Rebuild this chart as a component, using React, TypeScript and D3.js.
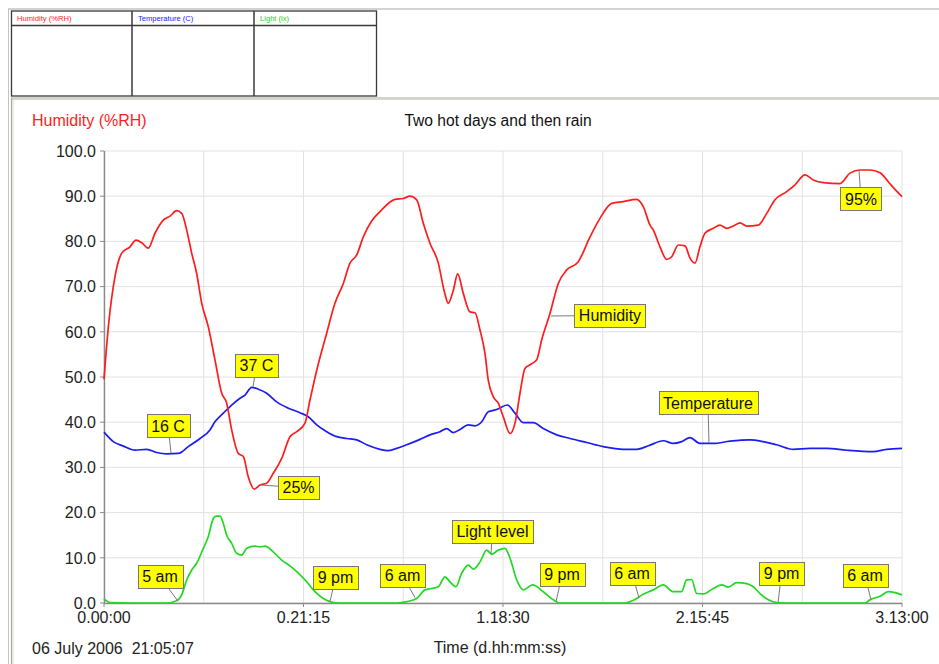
import React from 'react';
import * as d3 from 'd3';

// [hours since start, value]
const humidity: [number, number][] = [
  [0, 49.5], [0.46, 61], [1.17, 72.2], [1.89, 77.4], [2.77, 78.8], [3.41, 80.3], [4.02, 79.7],
  [4.72, 78.5], [5.43, 81.8], [6.32, 84.7], [7.03, 85.6], [7.74, 86.8], [8.28, 86.2], [8.81, 82.5],
  [9.34, 77.4], [9.87, 72.9], [10.41, 66.3], [11.11, 61.1], [11.82, 53.8], [12.54, 46.4], [13.07, 44.2],
  [13.6, 38.3], [14.3, 33.1], [14.84, 32.4], [15.37, 27.9], [16.01, 25.2], [16.62, 26.1], [17.33, 26.5],
  [18.03, 28.7], [18.93, 32], [19.81, 36.8], [20.53, 37.9], [21.41, 39.8], [21.94, 44.9], [22.66, 51.5],
  [23.72, 59.7], [24.6, 66.3], [25.49, 70.7], [26.2, 75.2], [26.92, 77], [27.62, 81], [28.51, 84.5],
  [29.4, 86.6], [31.0, 89.3], [31.88, 89.5], [32.59, 90], [33.31, 89.2], [34.01, 84], [34.72, 79.6],
  [35.61, 75.2], [36.22, 69.2], [36.67, 66.3], [37.21, 69.2], [37.67, 72.8], [38.27, 68.5], [38.98, 64.4],
  [39.52, 64.2], [40.05, 60.4], [40.58, 55.2], [40.93, 49.3], [41.47, 45.6], [42.0, 44.2], [42.53, 41.2],
  [43.25, 37.5], [43.78, 39.8], [44.31, 46.4], [44.84, 51.9], [45.38, 52.7], [46.09, 53.8], [46.62, 58.2],
  [47.51, 64.1], [48.39, 70.7], [49.29, 73.7], [50.52, 75.5], [51.77, 81], [52.83, 85.1], [54.08, 88.4],
  [55.31, 88.8], [56.74, 89.3], [57.44, 87.7], [58.16, 83.6], [58.51, 82.5], [59.22, 78.8], [59.94, 76],
  [60.47, 76.6], [61.17, 79.2], [61.89, 79], [62.42, 76.3], [62.95, 75.2], [63.48, 78.8], [64.01, 81.8],
  [64.9, 82.9], [65.61, 83.6], [66.33, 82.9], [67.03, 83.4], [67.74, 84.1], [68.46, 83.4], [69.69, 83.6],
  [70.59, 86.2], [71.47, 89.2], [72.72, 91], [73.6, 92.5], [74.67, 94.7], [75.55, 93.6], [76.62, 93],
  [78.4, 92.8], [79.46, 95.1], [80.53, 95.8], [81.59, 95.8], [82.66, 95.2], [83.54, 93.2], [84.25, 91.5],
  [85, 89.9],
];

const temperature: [number, number][] = [
  [0, 37.8], [0.99, 35.7], [2.06, 34.7], [3.3, 33.8], [4.55, 34], [5.61, 33.3], [6.68, 33], [7.91, 33.1],
  [8.98, 34.6], [10.23, 36.4], [11.29, 38.3], [11.82, 40.1], [12.71, 42], [13.6, 43.8], [14.49, 45.3],
  [15.02, 46], [15.73, 47.7], [16.44, 47.3], [17.33, 46.4], [18.4, 44.5], [19.63, 43.1], [20.88, 42.1],
  [21.76, 41.2], [22.66, 39.4], [23.72, 37.9], [24.79, 36.8], [25.85, 36.4], [26.92, 36.1], [27.98, 35],
  [29.4, 34], [30.2, 33.7], [31.18, 34.2], [32.24, 35], [33.66, 36.2], [34.72, 37.2], [35.79, 37.9],
  [36.5, 38.6], [37.21, 37.7], [37.92, 38.4], [38.8, 39.4], [39.52, 39.2], [40.23, 40.1], [40.93, 42.3],
  [41.83, 42.8], [42.96, 43.8], [43.78, 42], [44.66, 39.9], [45.73, 39.9], [46.79, 38.6], [48.22, 37.2],
  [49.64, 36.4], [51.42, 35.5], [53.18, 34.6], [55.31, 34], [56.74, 34], [58.0, 34.8], [59.57, 35.9],
  [60.64, 35.3], [61.53, 35.7], [62.42, 36.6], [63.48, 35.3], [64.9, 35.3], [66.68, 35.8], [68.81, 36.1],
  [70.23, 35.7], [71.65, 35], [73.42, 34], [75.2, 34.2], [76.98, 34.2], [79.11, 33.8], [81.94, 33.5],
  [83.37, 34], [85, 34.2],
];

const light: [number, number][] = [
  [0, 0.9], [0.64, 0.1], [3.1, 0], [6.68, 0], [7.74, 0.5], [8.28, 1.8], [8.81, 5.1], [9.34, 7.3],
  [9.87, 8.8], [10.58, 12.1], [11.11, 14.7], [11.64, 18.7], [11.93, 19.2], [12.36, 19.2], [12.71, 17.6],
  [13.07, 15], [13.6, 13.2], [14.13, 11], [14.67, 10.6], [15.2, 12.1], [16.08, 12.6], [16.62, 12.4],
  [17.15, 12.6], [18.03, 11.3], [18.93, 9.5], [19.81, 8.2], [20.7, 6.6], [21.59, 4.7], [22.47, 2.5],
  [23.36, 1], [24.42, 0.1], [25.14, 0], [31.18, 0], [32.24, 0.3], [33.31, 1], [34.19, 2.9], [34.9, 3.2],
  [35.61, 3.6], [36.32, 5.8], [36.85, 4.7], [37.49, 3.6], [38.1, 6.6], [38.8, 8.4], [39.34, 7.5],
  [40.05, 9.1], [40.76, 11.7], [41.3, 10.8], [42.0, 11.7], [42.71, 12.1], [43.25, 9.9], [43.96, 5.1],
  [44.66, 2.9], [45.66, 4], [46.79, 2.5], [47.86, 0.7], [48.57, 0], [55.31, 0], [56.74, 1], [57.3, 1.8],
  [58.51, 2.9], [59.57, 4], [60.64, 2.5], [61.53, 2.5], [62.06, 5.1], [62.6, 5.2], [63.13, 2.1],
  [63.84, 2], [64.9, 3.2], [65.8, 4], [66.5, 3.5], [67.39, 4.5], [68.46, 4.3], [69.16, 3.6], [69.87, 2.1],
  [70.76, 0.7], [71.65, 0.1], [72.54, 0], [81.06, 0], [81.59, 0.7], [82.66, 1.5], [83.54, 2.5],
  [84.25, 2.3], [85, 1.8],
];

const yTicks = [0, 10, 20, 30, 40, 50, 60, 70, 80, 90, 100];
const xTickLabels = ['0.00:00', '0.21:15', '1.18:30', '2.15:45', '3.13:00'];
const totalHours = 85;
const legendHeaders = ['Humidity (%RH)', 'Temperature (C)', 'Light (lx)'];

// anchor in data units, label box centre offset in px
const annotations = [
  { text: '16 C', h: 7.14, v: 33.2, dx: -3, dy: -27 },
  { text: '37 C', h: 15.87, v: 47.8, dx: 3.5, dy: -21.5 },
  { text: '25%', h: 16.62, v: 26.1, dx: 38.5, dy: 2.5 },
  { text: '5 am', h: 7.88, v: 0.4, dx: -18, dy: -24.5 },
  { text: '9 pm', h: 24.07, v: 0.3, dx: 5.5, dy: -24 },
  { text: '6 am', h: 33.13, v: 1.2, dx: -12.5, dy: -22 },
  { text: 'Light level', h: 41.22, v: 10.9, dx: 1.5, dy: -22 },
  { text: '9 pm', h: 48.15, v: 0.3, dx: 6, dy: -27 },
  { text: '6 am', h: 56.99, v: 1.1, dx: -7, dy: -24.5 },
  { text: 'Temperature', h: 64.44, v: 35.4, dx: -1, dy: -40 },
  { text: '9 pm', h: 71.8, v: 0.2, dx: 3.5, dy: -28.5 },
  { text: '6 am', h: 81.7, v: 0.6, dx: -6, dy: -25 },
  { text: 'Humidity', h: 47.61, v: 63.5, dx: 59, dy: -0.5 },
  { text: '95%', h: 80.42, v: 95.8, dx: 2, dy: 29 },
];

const FONT = '"Liberation Sans", Arial, Helvetica, sans-serif';
const RED = '#ff1c1c';
const BLUE = '#1c1cf5';
const GREEN = '#22d822';

let ctx: CanvasRenderingContext2D | null = null;
function measure(s: string, size: number) {
  if (!ctx) ctx = document.createElement('canvas').getContext('2d');
  if (!ctx) return s.length * size * 0.55;
  ctx.font = `${size}px ${FONT}`;
  return ctx.measureText(s).width;
}

export default function App() {
  const W = 939;
  const H = 664;
  const x = d3.scaleLinear().domain([0, totalHours]).range([104, 902]);
  const y = d3.scaleLinear().domain([0, 100]).range([603, 151]);
  const line = d3
    .line<[number, number]>()
    .x((d) => x(d[0]))
    .y((d) => y(d[1]))
    .curve(d3.curveMonotoneX);
  const gridX = d3.range(9).map((i) => (i * totalHours) / 8);
  const labelX = d3.range(5).map((i) => (i * totalHours) / 4);

  const colX = [11, 132, 254, 377];
  const legendColors = [RED, BLUE, GREEN];

  return (
    <svg
      width={W}
      height={H}
      style={{ position: 'absolute', left: 0, top: 0, background: '#fff' }}
      fontFamily={FONT}
    >
      <rect x={0} y={0} width={W} height={H} fill="#fff" />
      {/* outer frame */}
      <line x1={8} y1={9} x2={W} y2={9} stroke="#c4c4c4" strokeWidth={1.5} />
      <line x1={8.5} y1={9} x2={8.5} y2={H} stroke="#c4c4c4" strokeWidth={1} />

      {/* legend table */}
      <rect x={11.5} y={11} width={365} height={85} fill="#fff" stroke="#3a3a3a" strokeWidth={1.3} />
      <line x1={11} y1={25.5} x2={377} y2={25.5} stroke="#3a3a3a" strokeWidth={1.3} />
      {colX.slice(1, 3).map((cx) => (
        <line key={cx} x1={cx} y1={11} x2={cx} y2={96} stroke="#3a3a3a" strokeWidth={1.5} />
      ))}
      {legendHeaders.map((t, i) => (
        <text key={t} x={colX[i] + 6} y={21} fontSize={7.6} fill={legendColors[i]}>
          {t}
        </text>
      ))}

      {/* main panel border */}
      <line x1={11} y1={98} x2={W} y2={98} stroke="#a8a89c" strokeWidth={1.2} />
      <line x1={12} y1={99.5} x2={W} y2={99.5} stroke="#d8d8d0" strokeWidth={1} />
      <line x1={11.5} y1={98} x2={11.5} y2={H} stroke="#a8a89c" strokeWidth={1.2} />
      <line x1={13} y1={99.5} x2={13} y2={H} stroke="#d8d8d0" strokeWidth={1} />

      {/* titles */}
      <text x={32} y={126} fontSize={16} fill={RED}>
        Humidity (%RH)
      </text>
      <text x={498} y={125.5} fontSize={15.6} fill="#111" textAnchor="middle">
        Two hot days and then rain
      </text>

      {/* grid */}
      {yTicks.map((t) => (
        <line key={'gy' + t} x1={104} x2={902} y1={y(t)} y2={y(t)} stroke="#e2e2e2" strokeWidth={1} />
      ))}
      {gridX.map((g, i) => (
        <line key={'gx' + i} x1={x(g)} x2={x(g)} y1={151} y2={603} stroke="#e2e2e2" strokeWidth={1} />
      ))}

      {/* axes */}
      <line x1={104.5} y1={151} x2={104.5} y2={603.5} stroke="#8a8a8a" strokeWidth={1.4} />
      <line x1={104} y1={603.5} x2={902} y2={603.5} stroke="#8a8a8a" strokeWidth={1.4} />
      {yTicks.map((t) => (
        <g key={'yt' + t}>
          <line x1={100} x2={104} y1={y(t)} y2={y(t)} stroke="#8a8a8a" strokeWidth={1} />
          <text x={96} y={y(t)} dy="0.36em" fontSize={16} textAnchor="end" fill="#222">
            {t.toFixed(1)}
          </text>
        </g>
      ))}
      {labelX.map((g, i) => (
        <g key={'xt' + i}>
          <line x1={x(g)} x2={x(g)} y1={603} y2={607} stroke="#8a8a8a" strokeWidth={1} />
          <text x={x(g)} y={623} fontSize={16} textAnchor="middle" fill="#222">
            {xTickLabels[i]}
          </text>
        </g>
      ))}

      {/* series */}
      <path d={line(light) || ''} fill="none" stroke={GREEN} strokeWidth={1.7} />
      <path d={line(temperature) || ''} fill="none" stroke={BLUE} strokeWidth={1.7} />
      <path d={line(humidity) || ''} fill="none" stroke={RED} strokeWidth={1.7} />

      {/* annotations */}
      {annotations.map((a, i) => {
        const ax = x(a.h);
        const ay = y(a.v);
        const cx = ax + a.dx;
        const cy = ay + a.dy;
        const w = measure(a.text, 16) + 9;
        const h = 23;
        return (
          <g key={'an' + i}>
            <line x1={ax} y1={ay} x2={cx} y2={cy} stroke="#7a7a7a" strokeWidth={1} />
            <rect
              x={Math.round(cx - w / 2) + 0.5}
              y={Math.round(cy - h / 2) + 0.5}
              width={Math.round(w)}
              height={h}
              fill="#ffff00"
              stroke="#777"
              strokeWidth={1}
            />
            <text x={cx} y={cy} dy="0.36em" fontSize={16} textAnchor="middle" fill="#111">
              {a.text}
            </text>
          </g>
        );
      })}

      {/* footer */}
      <text x={32} y={654} fontSize={16} fill="#222" style={{ whiteSpace: 'pre' }}>
        {'06 July 2006  21:05:07'}
      </text>
      <text x={500} y={653} fontSize={16} fill="#222" textAnchor="middle">
        Time (d.hh:mm:ss)
      </text>
    </svg>
  );
}
